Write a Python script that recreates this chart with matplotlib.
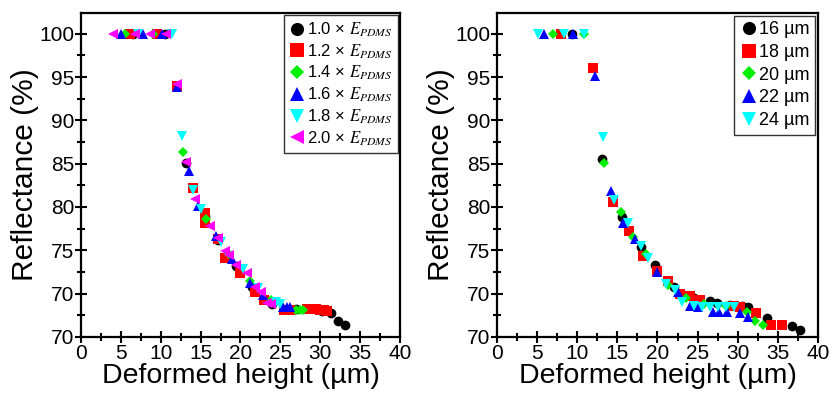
import matplotlib
matplotlib.use("Agg")
import matplotlib.pyplot as plt
from matplotlib.ticker import MultipleLocator

plt.rcParams["font.family"] = ["Liberation Sans", "DejaVu Sans"]
plt.rcParams["mathtext.fontset"] = "stix"

# ---- left panel: modulus series (x = deformed height um, y = reflectance %) ----
left_labels = ["1.0 × $E_{PDMS}$", "1.2 × $E_{PDMS}$", "1.4 × $E_{PDMS}$",
               "1.6 × $E_{PDMS}$", "1.8 × $E_{PDMS}$", "2.0 × $E_{PDMS}$"]

e10_x = [6.5, 10.5, 13.2, 15.5, 17.2, 19.5, 21.5, 24.0, 27.0, 30.2, 31.4, 32.2, 33.1]
e10_y = [100, 100, 85.1, 79.0, 76.2, 73.2, 70.8, 68.8, 68.2, 68.0, 67.7, 66.8, 66.4]

e12_x = [6.2, 9.5, 12.0, 14.1, 15.5, 15.5, 17.2, 18.0, 19.9, 21.8, 23.0, 25.5,
         26.2, 28.3, 29.0, 29.5, 30.0, 30.5, 30.8]
e12_y = [100, 100, 94.0, 82.2, 79.3, 78.1, 76.3, 74.1, 72.4, 70.2, 69.3, 68.1,
         68.1, 68.2, 68.2, 68.2, 68.1, 68.1, 68.0]

e14_x = [5.5, 9.0, 12.8, 15.7, 18.6, 21.2, 23.8, 27.0, 27.5, 27.9]
e14_y = [100, 100, 86.4, 78.6, 74.6, 71.4, 69.2, 68.1, 68.1, 68.1]

e16_x = [5.0, 7.8, 10.1, 12.0, 13.6, 14.7, 16.9, 18.9, 21.2, 22.8, 25.3, 25.8, 26.2]
e16_y = [100, 100, 100, 93.8, 84.1, 80.1, 76.6, 74.0, 71.2, 69.8, 68.5, 68.5, 68.5]

e18_x = [7.2, 11.4, 12.7, 14.1, 15.1, 17.5, 20.3, 22.2, 24.5, 25.0]
e18_y = [100, 100, 88.2, 82.0, 79.8, 76.0, 72.8, 70.6, 69.0, 68.8]

e20_x = [4.05, 6.8, 8.6, 10.7, 12.0, 13.2, 14.3, 16.2, 17.2, 18.0, 18.6, 19.5,
         20.8, 21.8, 22.6, 23.3, 23.8]
e20_y = [100, 100, 100, 100, 94.2, 85.2, 80.9, 77.8, 76.4, 74.9, 74.5, 73.3,
         72.4, 70.8, 70.2, 68.9, 68.8]

left_x = [e10_x, e12_x, e14_x, e16_x, e18_x, e20_x]
left_y = [e10_y, e12_y, e14_y, e16_y, e18_y, e20_y]

# ---- right panel: thickness series ----
right_labels = ["16 µm", "18 µm", "20 µm", "22 µm", "24 µm"]

t16_x = [9.3, 13.1, 15.6, 17.9, 19.7, 22.0, 24.5, 26.5, 27.4, 29.0, 30.5, 31.3,
         33.6, 36.7, 37.7]
t16_y = [100, 85.5, 78.8, 75.4, 73.3, 70.8, 69.5, 69.1, 68.9, 68.7, 68.6, 68.5,
         67.2, 66.2, 65.8]

t18_x = [8.0, 12.0, 14.5, 16.5, 18.2, 19.9, 21.3, 22.8, 24.0, 25.3, 29.5, 30.3,
         32.3, 34.2, 35.5]
t18_y = [100, 96.1, 80.6, 77.2, 74.3, 72.6, 71.5, 69.9, 69.7, 69.2, 68.6, 68.5,
         67.7, 66.4, 66.4]

t20_x = [7.0, 10.8, 13.3, 15.4, 17.0, 18.6, 21.3, 23.5, 25.8, 28.5, 31.2, 32.1, 33.1]
t20_y = [100, 100, 85.1, 79.4, 76.5, 74.6, 71.0, 69.5, 68.8, 68.6, 67.9, 66.8, 66.4]

t22_x = [5.9, 9.5, 12.2, 14.2, 15.7, 17.2, 19.9, 22.5, 24.0, 25.0, 26.9, 27.7,
         28.6, 30.3, 31.3]
t22_y = [100, 100, 95.1, 81.9, 78.1, 76.3, 72.5, 70.2, 68.6, 68.5, 67.9, 67.9,
         67.9, 67.7, 67.3]

t24_x = [5.1, 8.4, 10.9, 13.2, 14.6, 16.3, 17.9, 18.8, 21.1, 22.2, 23.0, 24.5,
         25.5, 26.5, 27.5, 28.5, 29.5]
t24_y = [100, 100, 100, 88.1, 80.8, 78.1, 75.5, 74.1, 71.1, 70.4, 69.0, 68.6,
         68.5, 68.5, 68.5, 68.5, 68.4]

right_x = [t16_x, t18_x, t20_x, t22_x, t24_x]
right_y = [t16_y, t18_y, t20_y, t22_y, t24_y]

# y tick labels as printed on the original (bottom one reads 70)
y_ticks = [65, 70, 75, 80, 85, 90, 95, 100]
y_tick_labels = ["70", "70", "75", "80", "85", "90", "95", "100"]
x_ticks = [0, 5, 10, 15, 20, 25, 30, 35, 40]

colors = ["#000000", "#ff0000", "#00ee00", "#0000ff", "#00ffff", "#ff00ff"]
markers = ["o", "s", "D", "^", "v", "<"]
sizes = [7, 7, 5.6, 7, 7, 7]


def style_axes(ax):
    ax.set_xlim(0, 40)
    ax.set_ylim(65, 102.4)
    ax.set_xticks(x_ticks)
    ax.set_yticks(y_ticks)
    ax.set_yticklabels(y_tick_labels)
    ax.xaxis.set_minor_locator(MultipleLocator(2.5))
    ax.yaxis.set_minor_locator(MultipleLocator(2.5))
    ax.tick_params(which="major", direction="inout", length=8, width=1.5,
                   labelsize=15, top=False, right=False, pad=1)
    ax.tick_params(which="minor", direction="inout", length=6, width=1.5,
                   top=False, right=False)
    for sp in ax.spines.values():
        sp.set_linewidth(1.6)
    ax.set_xlabel("Deformed height (µm)", fontsize=20.5, labelpad=0)
    ax.set_ylabel("Reflectance (%)", fontsize=21.5, labelpad=0)


fig = plt.figure(figsize=(8.33, 4.01), dpi=100)
ax1 = fig.add_axes([0.0972, 0.160, 0.3830, 0.8076])
ax2 = fig.add_axes([0.5966, 0.160, 0.3854, 0.8076])

for xs, ys, c, m, ms, lab in zip(left_x, left_y, colors, markers, sizes, left_labels):
    ax1.plot(xs, ys, linestyle="none", marker=m, color=c, markersize=ms,
             markeredgewidth=0, label=lab)

for xs, ys, c, m, ms, lab in zip(right_x, right_y, colors, markers, sizes, right_labels):
    ax2.plot(xs, ys, linestyle="none", marker=m, color=c, markersize=ms,
             markeredgewidth=0, label=lab)

for ax, fs, sp in ((ax1, 12, 0.2), (ax2, 13, 0.32)):
    style_axes(ax)
    leg = ax.legend(loc="upper right", fontsize=fs, frameon=True, fancybox=False,
                    borderaxespad=0.15, handletextpad=0.1, handlelength=1.0,
                    labelspacing=sp, borderpad=0.3, markerscale=1.35)
    leg.get_frame().set_edgecolor("black")
    leg.get_frame().set_linewidth(1.0)

fig.savefig("out.png", dpi=100)
